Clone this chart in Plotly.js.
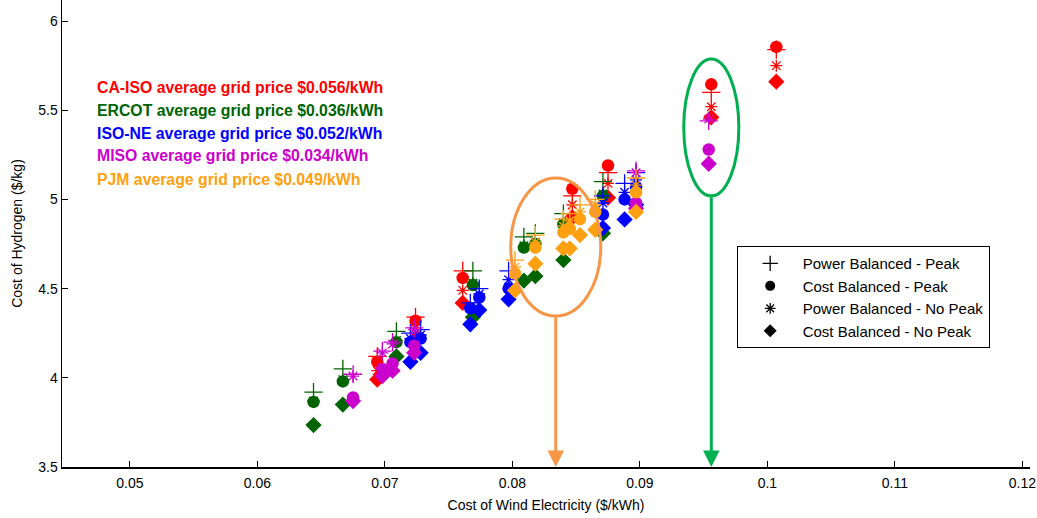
<!DOCTYPE html>
<html>
<head>
<meta charset="utf-8">
<script src="https://cdn.plot.ly/plotly-3.0.1.min.js"></script>
<style>html,body{margin:0;padding:0;background:#fff}#chart{width:1037px;height:518px}</style>
</head>
<body>
<div id="chart"></div>
<script>
// ---- data ----
const isoNames = ["CA-ISO", "ERCOT", "ISO-NE", "MISO", "PJM"];
const isoColors = ["#ff0000", "#006400", "#0000ff", "#cc00cc", "#ffa010"];
const isoGridPrice = ["$0.056/kWh", "$0.036/kWh", "$0.052/kWh", "$0.034/kWh", "$0.049/kWh"];
const isoTextColors = ["#ff0000", "#006400", "#0000ff", "#cc00cc", "#ffa010"];

const strategyNames = ["Power Balanced - Peak", "Cost Balanced - Peak", "Power Balanced - No Peak", "Cost Balanced - No Peak"];

// CA-ISO
const caX        = [0.0694, 0.0724, 0.0761, 0.0847, 0.0875, 0.0956, 0.1007];
const caPowPeak  = [4.12, 4.34, 4.60, 5.02, 5.15, 5.60, 5.84];
const caCostPeak = [4.09, 4.32, 4.56, 5.06, 5.19, 5.645, 5.855];
const caPowNo    = [4.04, 4.28, 4.49, 4.97, 5.09, 5.52, 5.75];
const caCostNo   = [3.99, 4.22, 4.42, 4.90, 5.01, 5.46, 5.66];

// ERCOT
const erX        = [0.0644, 0.0667, 0.0709, 0.0769, 0.0809, 0.0818, 0.0840, 0.0871];
const erPowPeak  = [3.92, 4.05, 4.26, 4.60, 4.79, 4.81, 4.92, 5.10];
const erCostPeak = [3.865, 3.98, 4.20, 4.52, 4.73, 4.75, 4.86, 5.02];
const erPowNo    = [3.87, 3.99, 4.21, 4.53, 4.74, 4.76, 4.87, 5.03];
const erCostNo   = [3.735, 3.85, 4.12, 4.34, 4.545, 4.57, 4.66, 4.81];

// ISO-NE
const neX        = [0.0720, 0.0728, 0.0767, 0.0774, 0.0797, 0.0871, 0.0888, 0.0897];
const nePowPeak  = [4.25, 4.27, 4.42, 4.50, 4.60, 5.02, 5.09, 5.15];
const neCostPeak = [4.20, 4.22, 4.39, 4.45, 4.50, 4.915, 5.00, 5.07];
const nePowNo    = [4.22, 4.24, 4.40, 4.47, 4.55, 4.98, 5.04, 5.11];
const neCostNo   = [4.09, 4.14, 4.30, 4.38, 4.44, 4.84, 4.888, 4.97];

// MISO
const miX        = [0.0675, 0.0698, 0.0706, 0.0723, 0.0897, 0.0954];
const miPowPeak  = [4.02, 4.15, 4.20, 4.28, 5.16, 5.44];
const miCostPeak = [3.89, 4.05, 4.08, 4.18, 4.98, 5.28];
const miPowNo    = [4.01, 4.14, 4.19, 4.27, 5.15, 5.45];
const miCostNo   = [3.87, 4.01, 4.04, 4.14, 4.95, 5.20];

// PJM
const pjX        = [0.0802, 0.0818, 0.0840, 0.0845, 0.0853, 0.0865, 0.0897];
const pjPowPeak  = [4.66, 4.80, 4.89, 4.92, 4.97, 5.00, 5.12];
const pjCostPeak = [4.585, 4.73, 4.815, 4.835, 4.89, 4.93, 5.04];
const pjPowNo    = [4.62, 4.76, 4.85, 4.88, 4.93, 4.97, 5.08];
const pjCostNo   = [4.49, 4.64, 4.725, 4.725, 4.80, 4.83, 4.93];

// highlighted wind costs (ellipse + arrow)
const highlightX = [0.0834, 0.0956];

// axis ticks
const xTicks = [0.05, 0.06, 0.07, 0.08, 0.09, 0.1, 0.11, 0.12];
const yTicks = [3.5, 4, 4.5, 5, 5.5, 6];

// ---- build traces ----
const isoX = [caX, erX, neX, miX, pjX];
const isoY = [
  [caPowPeak, caCostPeak, caPowNo, caCostNo],
  [erPowPeak, erCostPeak, erPowNo, erCostNo],
  [nePowPeak, neCostPeak, nePowNo, neCostNo],
  [miPowPeak, miCostPeak, miPowNo, miCostNo],
  [pjPowPeak, pjCostPeak, pjPowNo, pjCostNo]
];
const symbols = ["cross-thin-open", "circle", "asterisk-open", "diamond"];
const sizes = [13, 12.5, 10, 12.5];
const legendSizes = [11, 10, 9, 10];

function markerFor(s, color, size) {
  const open = (s === 0 || s === 2);
  return {
    symbol: symbols[s],
    size: size,
    color: color,
    line: {color: color, width: open ? 1.3 : 0}
  };
}

const traces = [];
for (let i = 0; i < isoNames.length; i++) {
  for (let s = 0; s < 4; s++) {
    traces.push({
      type: "scatter", mode: "markers",
      x: isoX[i], y: isoY[i][s],
      name: isoNames[i] + " " + strategyNames[s],
      marker: markerFor(s, isoColors[i], sizes[s]),
      showlegend: false,
      hoverinfo: "x+y+name"
    });
  }
}
// legend entries (black symbols)
for (let s = 0; s < 4; s++) {
  traces.push({
    type: "scatter", mode: "markers",
    x: [null], y: [null],
    name: strategyNames[s],
    marker: markerFor(s, "#000000", legendSizes[s]),
    showlegend: true
  });
}

// ---- annotations ----
const annotations = [];
const textY = [0.812, 0.764, 0.715, 0.666, 0.615];
for (let i = 0; i < isoNames.length; i++) {
  annotations.push({
    xref: "paper", yref: "paper", x: 0.034, y: textY[i],
    xanchor: "left", yanchor: "middle", showarrow: false,
    text: "<b>" + isoNames[i] + " average grid price " + isoGridPrice[i] + "</b>",
    font: {family: "Liberation Sans, Arial, sans-serif", size: 15.8, color: isoTextColors[i]}
  });
}
const hlColors = ["#f79646", "#00b050"];
const ellipseY = [[4.346, 5.12], [5.02, 5.787]];
const ellipseHalfW = [0.00353, 0.00216];
for (let k = 0; k < 2; k++) {
  annotations.push({
    xref: "x", yref: "y", axref: "x", ayref: "y",
    x: highlightX[k], y: 3.5, ax: highlightX[k], ay: ellipseY[k][0],
    showarrow: true, arrowhead: 2, arrowsize: 1.1, arrowwidth: 3,
    arrowcolor: hlColors[k], standoff: 0, startstandoff: 0, text: ""
  });
}
const shapes = [];
for (let k = 0; k < 2; k++) {
  shapes.push({
    type: "circle", xref: "x", yref: "y",
    x0: highlightX[k] - ellipseHalfW[k], x1: highlightX[k] + ellipseHalfW[k],
    y0: ellipseY[k][0], y1: ellipseY[k][1],
    line: {color: hlColors[k], width: 3}
  });
}

const font = {family: "Liberation Sans, Arial, sans-serif", size: 14, color: "#000"};
const layout = {
  width: 1037, height: 518,
  margin: {l: 62, r: 7, t: 0, b: 51},
  paper_bgcolor: "#fff", plot_bgcolor: "#fff",
  font: font,
  xaxis: {
    range: [0.04467, 0.1206], tickvals: xTicks, ticktext: xTicks.map(String),
    ticks: "inside", ticklen: 6, tickcolor: "#000", tickwidth: 1,
    showline: true, linecolor: "#000", linewidth: 1.5, showgrid: false, zeroline: false,
    ticklabelstandoff: 3,
    title: {text: "Cost of Wind Electricity ($/kWh)", font: font, standoff: 10},
    tickfont: font
  },
  yaxis: {
    range: [3.5, 6.118], tickvals: yTicks, ticktext: yTicks.map(String),
    ticks: "inside", ticklen: 6, tickcolor: "#000", tickwidth: 1,
    showline: true, linecolor: "#000", linewidth: 1.5, showgrid: false, zeroline: false,
    title: {text: "Cost of Hydrogen ($/kg)", font: font, standoff: 12},
    tickfont: font
  },
  legend: {
    x: 0.697, y: 0.473, xanchor: "left", yanchor: "top",
    bgcolor: "#fff", bordercolor: "#000", borderwidth: 1,
    font: {family: "Liberation Sans, Arial, sans-serif", size: 15, color: "#000"},
    itemwidth: 55
  },
  annotations: annotations,
  shapes: shapes,
  showlegend: true
};

Plotly.newPlot("chart", traces, layout, {displayModeBar: false, staticPlot: true});
</script>
</body>
</html>
